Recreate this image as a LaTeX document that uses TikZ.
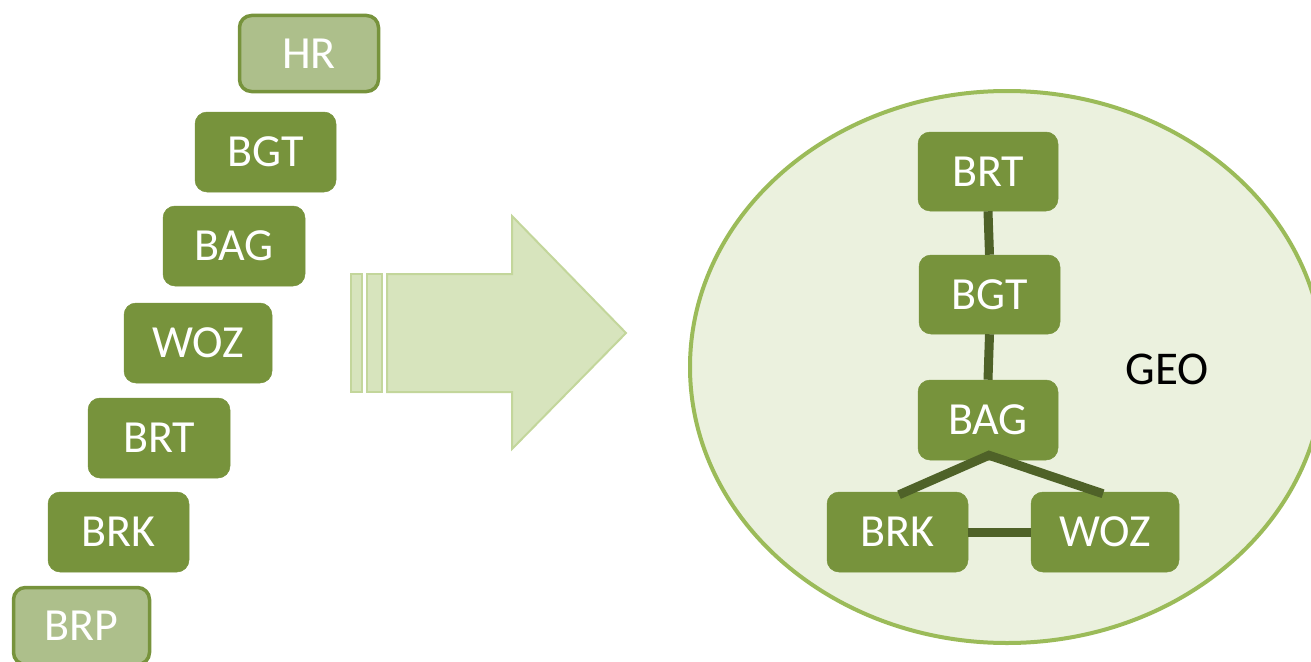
\documentclass[tikz,border=0pt]{standalone}
\usepackage{fontspec}
\setmainfont{Carlito}
\usetikzlibrary{calc}
\definecolor{boxgreen}{HTML}{77933C}
\definecolor{lightgreen}{HTML}{ADBF8B}
\definecolor{linegreen}{HTML}{4F6228}
\definecolor{ellfill}{HTML}{EBF1DE}
\definecolor{elldraw}{HTML}{9BBB59}
\definecolor{arrfill}{HTML}{D7E4BD}
\definecolor{arrdraw}{HTML}{C3D69B}
\tikzset{
  darkbox/.style={rectangle, rounded corners=12pt, fill=boxgreen, draw=boxgreen, line width=0.5pt,
    text=white, font=\fontsize{46}{46}\selectfont, inner sep=0pt},
  lightbox/.style={rectangle, rounded corners=12pt, fill=lightgreen, draw=boxgreen, line width=3.5pt,
    text=white, font=\fontsize{46}{46}\selectfont, inner sep=0pt},
  link/.style={draw=linegreen, line width=9pt},
  arrowshape/.style={fill=arrfill, draw=arrdraw, line width=2pt, line join=miter}
}
\begin{document}
\begin{tikzpicture}[x=1pt, y=-1pt]
\useasboundingbox (0,0) rectangle (1311,661);
\clip (0,0) rectangle (1311,661);
% left stack
\node[lightbox, minimum width=139pt, minimum height=76pt] (lHR) at (309,53.5) {HR};
\node[darkbox, minimum width=141pt, minimum height=80pt] (lBGT) at (265.5,152) {BGT};
\node[darkbox, minimum width=142pt, minimum height=80pt] (lBAG) at (234,246) {BAG};
\node[darkbox, minimum width=148pt, minimum height=80pt] (lWOZ) at (198,343) {WOZ};
\node[darkbox, minimum width=142pt, minimum height=80pt] (lBRT) at (159,438) {BRT};
\node[darkbox, minimum width=141pt, minimum height=80pt] (lBRK) at (118.5,532) {BRK};
\node[lightbox, minimum width=136pt, minimum height=77pt] (lBRP) at (81.5,626) {BRP};
% big arrow
\draw[arrowshape] (351,274) rectangle (362,392);
\draw[arrowshape] (367,274) rectangle (382,392);
\draw[arrowshape] (387,274) -- (512,274) -- (512,216) -- (626,333) -- (512,449) -- (512,392) -- (387,392) -- cycle;
% ellipse
\draw[fill=ellfill, draw=elldraw, line width=4pt] (1007,367) ellipse [x radius=317, y radius=276];
\node[font=\fontsize{47}{47}\selectfont, text=black] (geo) at (1167,369) {GEO};
% right tree
\node[darkbox, minimum width=140pt, minimum height=79pt] (rBRT) at (988,171.5) {BRT};
\node[darkbox, minimum width=141pt, minimum height=79pt] (rBGT) at (989.5,294.5) {BGT};
\node[darkbox, minimum width=140pt, minimum height=80pt] (rBAG) at (988,420) {BAG};
\node[darkbox, minimum width=141pt, minimum height=80pt] (rBRK) at (897.5,532) {BRK};
\node[darkbox, minimum width=148pt, minimum height=80pt] (rWOZ) at (1105,532) {WOZ};
\coordinate (apex) at ($(rBAG.south)+(1,-5)$);
\coordinate (brkend) at ($(rBRK.north)+(1.5,3)$);
\coordinate (wozend) at ($(rWOZ.north)+(-2,2)$);
\draw[link] (rBRT.south) -- (rBGT.north);
\draw[link] (rBGT.south) -- (rBAG.north);
\draw[link] (brkend) -- (apex) -- (wozend);
\draw[link] (rBRK.east) -- (rWOZ.west);
\end{tikzpicture}
\end{document}
